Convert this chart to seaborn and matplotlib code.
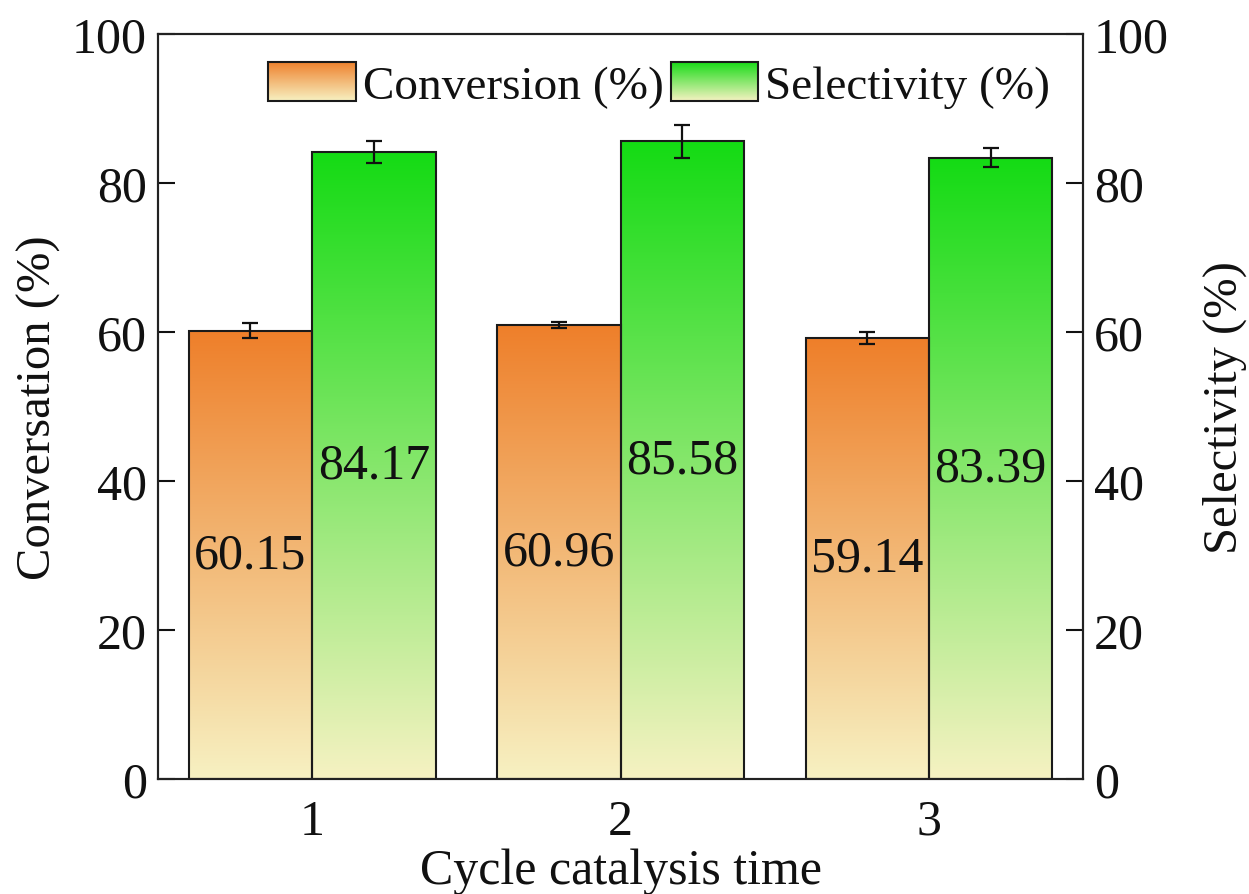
import numpy as np
import pandas as pd
import matplotlib
matplotlib.use("Agg")
import matplotlib.pyplot as plt
import seaborn as sns
from matplotlib.colors import LinearSegmentedColormap
from matplotlib.legend_handler import HandlerBase
from matplotlib.image import BboxImage
from matplotlib.transforms import Bbox, TransformedBbox
from matplotlib.patches import Rectangle

# data
cycles = ["1", "2", "3"]
conversion = [60.15, 60.96, 59.14]
conversion_err = [1.0, 0.4, 0.8]
selectivity = [84.17, 85.58, 83.39]
selectivity_err = [1.5, 2.2, 1.3]
series = ["Conversion (%)", "Selectivity (%)"]

# gradient colours: bottom -> top
orange_cmap = LinearSegmentedColormap.from_list("orange", ["#F7F1C2", "#EE7F2A"])
green_cmap = LinearSegmentedColormap.from_list("green", ["#F6F2C2", "#14DB14"])
cmaps = [orange_cmap, green_cmap]

df = pd.DataFrame({
    "cycle": cycles * 2,
    "metric": [series[0]] * 3 + [series[1]] * 3,
    "value": conversion + selectivity,
})

sns.set_style("ticks")
plt.rcParams["font.family"] = ["Liberation Serif", "DejaVu Serif"]
plt.rcParams.update({"text.color": "#111111", "axes.labelcolor": "#111111",
                     "xtick.color": "#111111", "ytick.color": "#111111"})
FS = 36

fig = plt.figure(figsize=(12.49, 8.95), dpi=100)
ax = fig.add_axes([0.1265, 0.1285, 0.7406, 0.8325])

sns.barplot(data=df, x="cycle", y="value", hue="metric", hue_order=series,
            width=0.8, edgecolor="#1a1a1a", linewidth=1.5, errorbar=None,
            legend=False, ax=ax)

grad = np.linspace(0, 1, 256).reshape(-1, 1)
errs = [conversion_err, selectivity_err]
bar_conts = list(ax.containers)
for ci, cont in enumerate(bar_conts):
    for bi, bar in enumerate(cont):
        x0, y0 = bar.get_x(), bar.get_y()
        w, h = bar.get_width(), bar.get_height()
        bar.set_facecolor("none")
        im = ax.imshow(grad, cmap=cmaps[ci], origin="lower", aspect="auto",
                       extent=[x0, x0 + w, y0, y0 + h], zorder=bar.get_zorder() - 0.1)
        im.set_clip_path(bar)
        ax.errorbar(x0 + w / 2, h, yerr=errs[ci][bi], color="#111111",
                    elinewidth=1.6, capsize=6, capthick=1.6, zorder=5)
    ax.bar_label(cont, labels=[f"{v:.2f}" for v in cont.datavalues],
                 label_type="center", fontsize=FS, color="#111111")

ax.set_xlim(-0.5, 2.5)
ax.set_ylim(0, 100)
ax.set_yticks([0, 20, 40, 60, 80, 100])
ax.set_xlabel("Cycle catalysis time", fontsize=FS, labelpad=2)
ax.set_ylabel("Conversation (%)", fontsize=35, labelpad=8)
ax.tick_params(direction="in", length=12, width=1.5, labelsize=FS, pad=8)
ax.tick_params(axis="x", pad=14)
for s in ax.spines.values():
    s.set_linewidth(1.5)
    s.set_color("#222222")

ax2 = ax.twinx()
ax2.set_ylim(0, 100)
ax2.set_yticks([0, 20, 40, 60, 80, 100])
ax2.set_ylabel("Selectivity (%)", fontsize=35, labelpad=24)
ax2.tick_params(direction="in", length=12, width=1.5, labelsize=FS, pad=8)
for s in ax2.spines.values():
    s.set_linewidth(1.5)
    s.set_color("#222222")


class GradientHandler(HandlerBase):
    def __init__(self, cmap):
        super().__init__()
        self.cmap = cmap

    def create_artists(self, legend, orig_handle, xdescent, ydescent,
                       width, height, fontsize, trans):
        bb = TransformedBbox(Bbox.from_bounds(-xdescent, -ydescent, width, height), trans)
        img = BboxImage(bb, cmap=self.cmap, origin="lower", interpolation="bilinear")
        img.set_data(grad)
        frame = Rectangle((-xdescent, -ydescent), width, height, facecolor="none",
                          edgecolor="#1a1a1a", linewidth=1.5, transform=trans)
        return [img, frame]


h1 = Rectangle((0, 0), 1, 1)
h2 = Rectangle((0, 0), 1, 1)
ax.legend([h1, h2], series, loc="upper right", bbox_to_anchor=(0.995, 1.0),
          ncol=2, frameon=False, fontsize=34, handlelength=1.85, handleheight=0.9,
          handletextpad=0.15, columnspacing=0.15, borderaxespad=0.2,
          handler_map={h1: GradientHandler(orange_cmap), h2: GradientHandler(green_cmap)})

fig.savefig("out.png", dpi=100)
